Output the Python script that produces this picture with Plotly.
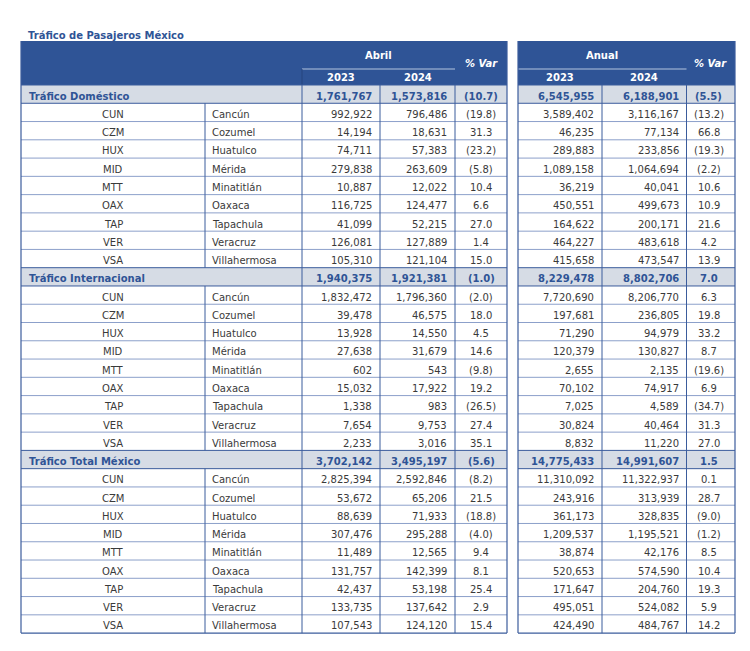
import plotly.graph_objects as go

# ---------------- DATA ----------------
codes = ["CUN", "CZM", "HUX", "MID", "MTT", "OAX", "TAP", "VER", "VSA"]
cities = ["Cancún", "Cozumel", "Huatulco", "Mérida", "Minatitlán", "Oaxaca",
          "Tapachula", "Veracruz", "Villahermosa"]

section_names = ["Tráfico Doméstico", "Tráfico Internacional", "Tráfico Total México"]

# section totals: [abril 2023, abril 2024, %var, anual 2023, anual 2024, %var]
dom_total = [1761767, 1573816, -10.7, 6545955, 6188901, -5.5]
int_total = [1940375, 1921381, -1.0, 8229478, 8802706, 7.0]
tot_total = [3702142, 3495197, -5.6, 14775433, 14991607, 1.5]

dom_abr23 = [992922, 14194, 74711, 279838, 10887, 116725, 41099, 126081, 105310]
dom_abr24 = [796486, 18631, 57383, 263609, 12022, 124477, 52215, 127889, 121104]
dom_abr_var = [-19.8, 31.3, -23.2, -5.8, 10.4, 6.6, 27.0, 1.4, 15.0]
dom_an23 = [3589402, 46235, 289883, 1089158, 36219, 450551, 164622, 464227, 415658]
dom_an24 = [3116167, 77134, 233856, 1064694, 40041, 499673, 200171, 483618, 473547]
dom_an_var = [-13.2, 66.8, -19.3, -2.2, 10.6, 10.9, 21.6, 4.2, 13.9]

int_abr23 = [1832472, 39478, 13928, 27638, 602, 15032, 1338, 7654, 2233]
int_abr24 = [1796360, 46575, 14550, 31679, 543, 17922, 983, 9753, 3016]
int_abr_var = [-2.0, 18.0, 4.5, 14.6, -9.8, 19.2, -26.5, 27.4, 35.1]
int_an23 = [7720690, 197681, 71290, 120379, 2655, 70102, 7025, 30824, 8832]
int_an24 = [8206770, 236805, 94979, 130827, 2135, 74917, 4589, 40464, 11220]
int_an_var = [6.3, 19.8, 33.2, 8.7, -19.6, 6.9, -34.7, 31.3, 27.0]

tot_abr23 = [2825394, 53672, 88639, 307476, 11489, 131757, 42437, 133735, 107543]
tot_abr24 = [2592846, 65206, 71933, 295288, 12565, 142399, 53198, 137642, 124120]
tot_abr_var = [-8.2, 21.5, -18.8, -4.0, 9.4, 8.1, 25.4, 2.9, 15.4]
tot_an23 = [11310092, 243916, 361173, 1209537, 38874, 520653, 171647, 495051, 424490]
tot_an24 = [11322937, 313939, 328835, 1195521, 42176, 574590, 204760, 524082, 484767]
tot_an_var = [0.1, 28.7, -9.0, -1.2, 8.5, 10.4, 19.3, 5.9, 14.2]

title_text = "Tráfico de Pasajeros México"
period_labels = ["Abril", "Anual"]
year_labels = ["2023", "2024"]
var_label = "% Var"

# ---------------- LAYOUT / STYLE ----------------
# the page body has an 8px margin; the figure is sized to fit the window
OFF = 8
W, H = 750 - 2 * OFF, 651 - 2 * OFF
FONT = "DejaVu Sans"
HDR_BLUE = "#2F5496"
SEC_FILL = "#D6DCE5"
LINE_BLUE = "#3B5C9C"
HLINE = "#6F88BC"
TXT = "#3A3A3A"

# column edges (screen px)
L_CODE = (21, 205)
L_CITY = (205, 302)
L_23 = (302, 380)
L_24 = (380, 455)
L_VAR = (455, 507)
R_23 = (518, 602)
R_24 = (602, 686.5)
R_VAR = (686.5, 735)

HDR_TOP = 41
HDR_MID = 69
ROW0 = 85
ROWH = 18.27


def fmt_num(v):
    return f"{v:,}"


def fmt_pct(v):
    return f"({abs(v):.1f})" if v < 0 else f"{v:.1f}"


def row_top(i):
    return ROW0 + i * ROWH


sections = [
    (section_names[0], dom_total, [dom_abr23, dom_abr24, dom_abr_var, dom_an23, dom_an24, dom_an_var]),
    (section_names[1], int_total, [int_abr23, int_abr24, int_abr_var, int_an23, int_an24, int_an_var]),
    (section_names[2], tot_total, [tot_abr23, tot_abr24, tot_abr_var, tot_an23, tot_an24, tot_an_var]),
]

fig = go.Figure()
shapes = []
ann = []


def rect(x0, x1, y0, y1, fill):
    shapes.append(dict(type="rect", xref="x", yref="y", x0=x0, x1=x1, y0=y0, y1=y1,
                       fillcolor=fill, line=dict(width=0), layer="below"))


def line(x0, y0, x1, y1, color, width=1, dash="solid"):
    shapes.append(dict(type="line", xref="x", yref="y", x0=x0, x1=x1, y0=y0, y1=y1,
                       line=dict(color=color, width=width, dash=dash)))


def text(x, y, s, anchor="center", size=10, color=TXT, bold=False, italic=False):
    if bold:
        s = f"<b>{s}</b>"
    if italic:
        s = f"<i>{s}</i>"
    ann.append(dict(x=x, y=y, xref="x", yref="y", text=s, showarrow=False,
                    xanchor=anchor, yanchor="middle",
                    font=dict(family=FONT, size=size, color=color)))


# title
text(26, 35, title_text, anchor="left", size=10, color=HDR_BLUE, bold=True)

# header bands
rect(L_CODE[0], L_VAR[1], HDR_TOP, ROW0, HDR_BLUE)
rect(R_23[0], R_VAR[1], HDR_TOP, ROW0, HDR_BLUE)
line(L_23[0], HDR_MID, L_24[1], HDR_MID, "#B4C3DE", 1.2)
line(R_23[0], HDR_MID, R_24[1], HDR_MID, "#B4C3DE", 1.2)
line(L_23[0], HDR_MID, L_23[0], ROW0, "#27457F", 1)

for (c23, c24, cv, plab) in [(L_23, L_24, L_VAR, period_labels[0]), (R_23, R_24, R_VAR, period_labels[1])]:
    text((c23[0] + c24[1]) / 2, 55, plab, color="white", bold=True)
    text((c23[0] + c23[1]) / 2, 77.5, year_labels[0], color="white", bold=True)
    text((c24[0] + c24[1]) / 2, 77.5, year_labels[1], color="white", bold=True)
    text((cv[0] + cv[1]) / 2, 63, var_label, color="white", bold=True, italic=True)

PAD = 6
row = 0
n_rows = sum(1 + len(codes) for _ in sections)
for name, totals, series in sections:
    y0, y1 = row_top(row), row_top(row + 1)
    yc = (y0 + y1) / 2 + 2
    rect(L_CODE[0], L_VAR[1], y0, y1, SEC_FILL)
    rect(R_23[0], R_VAR[1], y0, y1, SEC_FILL)
    text(27, yc, name, anchor="left", color=HDR_BLUE, bold=True)
    text(L_23[1] - PAD, yc, fmt_num(totals[0]), anchor="right", color=HDR_BLUE, bold=True)
    text(L_24[1] - PAD, yc, fmt_num(totals[1]), anchor="right", color=HDR_BLUE, bold=True)
    text((L_VAR[0] + L_VAR[1]) / 2, yc, fmt_pct(totals[2]), color=HDR_BLUE, bold=True)
    text(R_23[1] - PAD, yc, fmt_num(totals[3]), anchor="right", color=HDR_BLUE, bold=True)
    text(R_24[1] - PAD, yc, fmt_num(totals[4]), anchor="right", color=HDR_BLUE, bold=True)
    text((R_VAR[0] + R_VAR[1]) / 2 - 2, yc, fmt_pct(totals[5]), color=HDR_BLUE, bold=True)
    # section borders
    line(L_CODE[0], y0, L_VAR[1], y0, LINE_BLUE)
    line(R_23[0], y0, R_VAR[1], y0, LINE_BLUE)
    line(L_CODE[0], y1, L_VAR[1], y1, LINE_BLUE)
    line(R_23[0], y1, R_VAR[1], y1, LINE_BLUE)
    row += 1
    for k in range(len(codes)):
        y0, y1 = row_top(row), row_top(row + 1)
        yc = (y0 + y1) / 2 + 2
        text((L_CODE[0] + L_CODE[1]) / 2, yc, codes[k])
        text(L_CITY[0] + 5, yc, cities[k], anchor="left")
        text(L_23[1] - PAD, yc, fmt_num(series[0][k]), anchor="right")
        text(L_24[1] - PAD, yc, fmt_num(series[1][k]), anchor="right")
        text((L_VAR[0] + L_VAR[1]) / 2, yc, fmt_pct(series[2][k]))
        text(R_23[1] - PAD, yc, fmt_num(series[3][k]), anchor="right")
        text(R_24[1] - PAD, yc, fmt_num(series[4][k]), anchor="right")
        text((R_VAR[0] + R_VAR[1]) / 2 - 2, yc, fmt_pct(series[5][k]))
        if k < len(codes) - 1:
            line(L_CODE[0], y1, L_VAR[1], y1, HLINE, 0.8)
            line(R_23[0], y1, R_VAR[1], y1, HLINE, 0.8)
        # code/city divider (body rows only)
        line(L_CODE[1], y0, L_CODE[1], y1, LINE_BLUE)
        row += 1

bottom = row_top(n_rows)
line(L_CODE[0], bottom, L_VAR[1], bottom, LINE_BLUE, 1.2)
line(R_23[0], bottom, R_VAR[1], bottom, LINE_BLUE, 1.2)

# vertical lines
for x in [L_CODE[0], L_VAR[1], R_23[0], R_VAR[1]]:
    line(x, HDR_TOP, x, bottom, LINE_BLUE, 1.2)
for x in [L_23[0], L_24[0], L_VAR[0], R_24[0], R_VAR[0]]:
    line(x, ROW0, x, bottom, LINE_BLUE, 1)

fig.update_layout(
    width=W, height=H,
    margin=dict(l=0, r=0, t=0, b=0),
    paper_bgcolor="white", plot_bgcolor="white",
    xaxis=dict(range=[OFF, OFF + W], visible=False, fixedrange=True),
    yaxis=dict(range=[OFF + H, OFF], visible=False, fixedrange=True),
    shapes=shapes, annotations=ann, showlegend=False,
)

fig.write_html("out.html", config={"displayModeBar": False})
